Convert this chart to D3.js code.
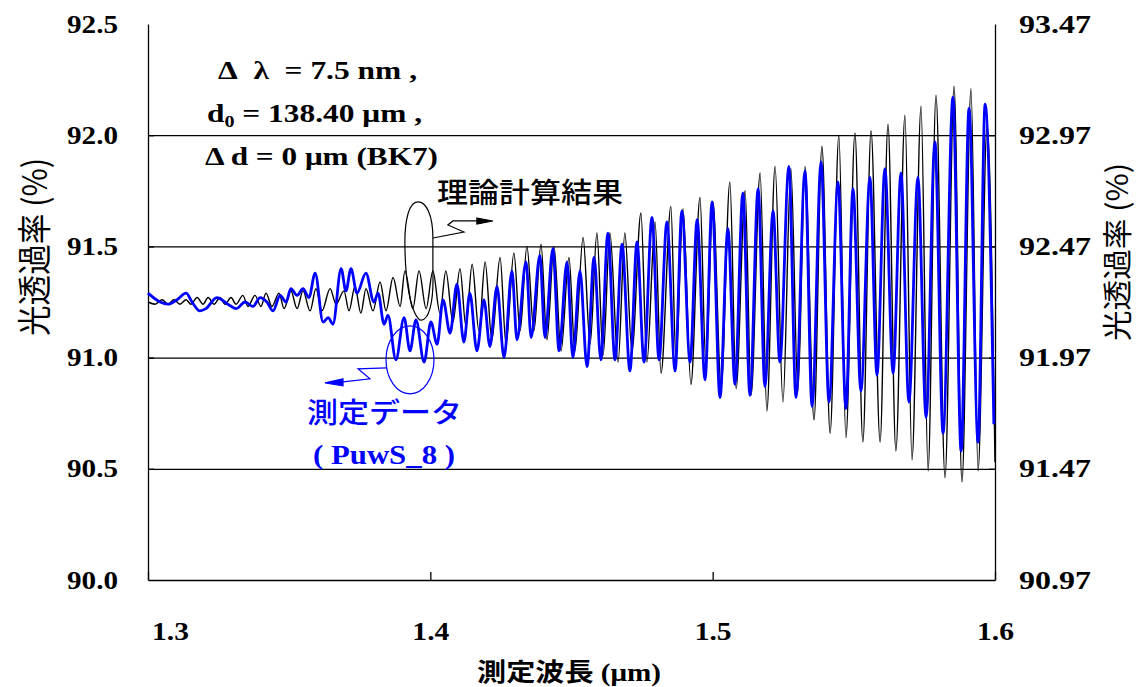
<!DOCTYPE html>
<html lang="ja">
<head>
<meta charset="UTF-8">
<title>光透過率</title>
<script src="https://d3js.org/d3.v7.min.js"></script>
<style>
  body { margin: 0; background: #fff; }
  svg { display: block; }
  .serif { font-family: "Liberation Serif", "Times New Roman", serif; font-weight: bold; }
  .cjk { font-family: "Noto Sans CJK JP", sans-serif; }
  .grid line { stroke: #000; stroke-width: 1.3; }
  .grid path { display: none; }
  .frame path, .frame line { stroke: #000; stroke-width: 1.3; }
</style>
</head>
<body>
<div id="chart"></div>
<script>
// axis ticks
const xTicks = [1.3, 1.4, 1.5, 1.6];
const yTicksLeft = [90.0, 90.5, 91.0, 91.5, 92.0, 92.5];
const yTicksRight = [90.97, 91.47, 91.97, 92.47, 92.97, 93.47];

// 理論計算結果 (black), extrema
const theoryLambda = [
  1.3000,1.3025,1.3050,1.3071,1.3092,1.3113,1.3135,1.3152,1.3174,1.3195,
  1.3213,1.3234,1.3255,1.3273,1.3294,1.3312,1.3336,1.3354,1.3379,1.3400,
  1.3418,1.3439,1.3464,1.3482,1.3506,1.3528,1.3549,1.3574,1.3595,1.3616,
  1.3645,1.3666,1.3694,1.3712,1.3733,1.3754,1.3772,1.3797,1.3822,1.3843,
  1.3868,1.3893,1.3910,1.3938,1.3960,1.3985,1.4009,1.4034,1.4055,1.4080,
  1.4105,1.4126,1.4148,1.4172,1.4194,1.4218,1.4247,1.4268,1.4296,1.4318,
  1.4342,1.4367,1.4392,1.4413,1.4438,1.4463,1.4491,1.4512,1.4541,1.4566,
  1.4590,1.4612,1.4636,1.4665,1.4689,1.4714,1.4746,1.4767,1.4796,1.4817,
  1.4852,1.4870,1.4895,1.4923,1.4955,1.4976,1.5001,1.5030,1.5061,1.5083,
  1.5115,1.5136,1.5168,1.5192,1.5221,1.5249,1.5277,1.5302,1.5327,1.5359,
  1.5387,1.5416,1.5447,1.5472,1.5504,1.5532,1.5561,1.5593,1.5621,1.5649,
  1.5681,1.5706,1.5738,1.5763,1.5791,1.5823,1.5855,1.5883,1.5915,1.5940,
  1.5972,1.6000
];
const theoryT = [
  91.25,91.24,91.26,91.24,91.26,91.24,91.26,91.24,91.27,91.24,
  91.27,91.24,91.27,91.24,91.27,91.24,91.28,91.23,91.28,91.23,
  91.29,91.23,91.29,91.22,91.30,91.22,91.30,91.21,91.31,91.21,
  91.31,91.24,91.30,91.21,91.32,91.20,91.31,91.21,91.34,91.21,
  91.36,91.23,91.39,91.22,91.39,91.22,91.39,91.20,91.39,91.16,
  91.40,91.14,91.42,91.12,91.43,91.08,91.45,91.06,91.47,91.12,
  91.50,91.12,91.51,91.08,91.50,91.03,91.45,91.03,91.54,91.06,
  91.56,91.01,91.56,90.98,91.56,91.03,91.65,90.98,91.61,90.93,
  91.68,90.99,91.67,90.88,91.72,90.97,91.70,90.87,91.79,90.86,
  91.75,90.83,91.83,90.76,91.86,90.80,91.85,90.85,91.86,90.72,
  91.95,90.66,92.00,90.64,92.01,90.62,92.02,90.62,92.05,90.58,
  92.09,90.54,92.13,90.49,92.18,90.46,92.22,90.44,92.21,90.49,
  92.05,90.53
];

// 測定データ PuwS_8 (blue)
const measLambda = [
  1.3000,1.3043,1.3071,1.3103,1.3135,1.3156,1.3184,1.3205,1.3244,1.3283,
  1.3312,1.3344,1.3372,1.3397,1.3421,1.3443,1.3468,1.3489,1.3506,1.3528,
  1.3549,1.3570,1.3592,1.3620,1.3638,1.3655,1.3684,1.3701,1.3719,1.3740,
  1.3772,1.3800,1.3815,1.3836,1.3850,1.3878,1.3907,1.3928,1.3949,1.3978,
  1.4002,1.4024,1.4045,1.4070,1.4094,1.4119,1.4140,1.4165,1.4190,1.4211,
  1.4236,1.4261,1.4289,1.4307,1.4339,1.4357,1.4388,1.4406,1.4434,1.4456,
  1.4484,1.4505,1.4530,1.4555,1.4580,1.4604,1.4629,1.4654,1.4679,1.4707,
  1.4732,1.4757,1.4785,1.4810,1.4838,1.4867,1.4891,1.4920,1.4945,1.4973,
  1.4998,1.5026,1.5054,1.5079,1.5107,1.5132,1.5161,1.5185,1.5214,1.5238,
  1.5270,1.5295,1.5327,1.5352,1.5384,1.5412,1.5444,1.5472,1.5497,1.5525,
  1.5557,1.5582,1.5610,1.5639,1.5667,1.5695,1.5727,1.5756,1.5787,1.5816,
  1.5851,1.5880,1.5908,1.5940,1.5965,1.5996
];
const measT = [
  91.29,91.25,91.24,91.26,91.29,91.25,91.21,91.22,91.27,91.24,
  91.22,91.25,91.23,91.27,91.25,91.21,91.28,91.25,91.31,91.28,
  91.31,91.27,91.38,91.16,91.18,91.15,91.40,91.30,91.40,91.29,
  91.38,91.25,91.29,91.15,91.19,90.99,91.18,91.03,91.17,90.98,
  91.16,91.06,91.26,91.11,91.33,91.07,91.29,91.03,91.26,91.05,
  91.32,91.00,91.39,91.08,91.43,91.09,91.46,91.09,91.49,91.03,
  91.43,91.00,91.39,90.96,91.45,90.99,91.56,90.99,91.51,90.94,
  91.52,90.98,91.63,90.99,91.61,90.94,91.66,90.98,91.62,90.90,
  91.70,90.82,91.58,90.88,91.74,90.83,91.76,90.87,91.66,90.98,
  91.86,90.82,91.84,90.78,91.88,90.80,91.79,90.77,91.76,90.85,
  91.81,90.92,91.85,90.93,91.83,90.80,91.81,90.73,91.97,90.66,
  92.17,90.58,92.12,90.62,92.14,90.70
];

const W = 1138, H = 687;
const plotLeft = 148, plotRight = 995, plotTop = 24, plotBottom = 580;
const blue = "#0000ff";

const x = d3.scaleLinear().domain([1.3, 1.6]).range([plotLeft, plotRight]);
const yL = d3.scaleLinear().domain([90, 92.5]).range([plotBottom, plotTop]);
const yR = d3.scaleLinear().domain([90.97, 93.47]).range([plotBottom, plotTop]);

const svg = d3.select("#chart").append("svg")
    .attr("width", W)
    .attr("height", H);

// gridlines
svg.append("g")
    .attr("class", "grid")
    .attr("transform", "translate(" + plotLeft + ",0)")
    .call(d3.axisLeft(yL).tickValues([90.5, 91, 91.5, 92]).tickSize(-(plotRight - plotLeft)).tickFormat(""));

// frame with inward ticks
svg.append("g").attr("class", "frame")
    .attr("transform", "translate(" + plotLeft + ",0)")
    .call(d3.axisLeft(yL).tickValues(yTicksLeft.slice(1, -1)).tickSizeInner(-6).tickSizeOuter(0).tickFormat(""));
svg.append("g").attr("class", "frame")
    .attr("transform", "translate(" + plotRight + ",0)")
    .call(d3.axisRight(yR).tickValues(yTicksRight.slice(1, -1)).tickSizeInner(-6).tickSizeOuter(0).tickFormat(""));
svg.append("g").attr("class", "frame")
    .attr("transform", "translate(0," + plotBottom + ")")
    .call(d3.axisBottom(x).tickValues(xTicks).tickSizeInner(-8).tickSizeOuter(0).tickFormat(""));

// tick labels
function styleLabels(g, len) {
    g.attr("font-size", null).attr("font-family", null);
    g.select(".domain").remove();
    g.selectAll("text")
        .attr("class", "serif")
        .attr("font-size", 25)
        .attr("fill", "#000")
        .attr("textLength", len)
        .attr("lengthAdjust", "spacingAndGlyphs");
}

svg.append("g")
    .attr("transform", "translate(" + plotLeft + ",0)")
    .call(d3.axisLeft(yL).tickValues(yTicksLeft).tickSize(0).tickPadding(30).tickFormat(d3.format(".1f")))
    .call(g => styleLabels(g, 51));

svg.append("g")
    .attr("transform", "translate(" + plotRight + ",0)")
    .call(d3.axisRight(yR).tickValues(yTicksRight).tickSize(0).tickPadding(24).tickFormat(d3.format(".2f")))
    .call(g => styleLabels(g, 72));

svg.append("g")
    .attr("transform", "translate(0," + plotBottom + ")")
    .call(d3.axisBottom(x).tickValues(xTicks).tickSize(0).tickFormat(d3.format(".1f")))
    .call(g => styleLabels(g, 37))
    .call(g => g.selectAll("text").attr("y", 60).attr("dy", 0)
        .attr("x", (d, i) => i === 0 ? 22 : 0));

// curves
const line = d3.line()
    .x(d => x(d[0]))
    .y(d => yL(d[1]))
    .curve(d3.curveMonotoneX);

svg.append("path")
    .datum(d3.zip(theoryLambda, theoryT))
    .attr("d", line)
    .attr("fill", "none")
    .attr("stroke", "#000")
    .attr("stroke-width", 1.4);

svg.append("path")
    .datum(d3.zip(measLambda, measT))
    .attr("d", line)
    .attr("fill", "none")
    .attr("stroke", blue)
    .attr("stroke-width", 2.8)
    .attr("stroke-linejoin", "round");

// annotation: parameters
const ann = svg.append("g").attr("class", "serif").attr("font-size", 25).attr("fill", "#000");
ann.append("text").attr("x", 218).attr("y", 79)
    .attr("textLength", 199).attr("lengthAdjust", "spacingAndGlyphs")
    .text("Δ\u2002λ\u2002= 7.5 nm ,");
const t2 = ann.append("text").attr("x", 207).attr("y", 122)
    .attr("textLength", 215).attr("lengthAdjust", "spacingAndGlyphs");
t2.append("tspan").text("d");
t2.append("tspan").attr("font-size", 16).attr("dy", 5).text("0");
t2.append("tspan").attr("dy", -5).text(" = 138.40 μm ,");
ann.append("text").attr("x", 205).attr("y", 165)
    .attr("textLength", 233).attr("lengthAdjust", "spacingAndGlyphs")
    .text("Δ d = 0 μm (BK7)");

// series labels
svg.append("text").attr("class", "cjk")
    .attr("x", 437).attr("y", 203)
    .attr("font-size", 28).attr("font-weight", 500).attr("fill", "#000")
    .attr("textLength", 186).attr("lengthAdjust", "spacingAndGlyphs")
    .text("理論計算結果");
svg.append("text").attr("class", "cjk")
    .attr("x", 307).attr("y", 423)
    .attr("font-size", 28).attr("font-weight", 500).attr("fill", blue)
    .attr("textLength", 155).attr("lengthAdjust", "spacingAndGlyphs")
    .text("測定データ");
svg.append("text").attr("class", "serif")
    .attr("x", 313).attr("y", 464)
    .attr("font-size", 27).attr("fill", blue)
    .attr("textLength", 142).attr("lengthAdjust", "spacingAndGlyphs")
    .text("( PuwS_8 )");

// callouts
const bx = x(1.3963), by = yL(91.43);
const bl = svg.append("g").attr("transform", "translate(" + bx + "," + by + ")")
    .attr("fill", "none").attr("stroke", "#000").attr("stroke-width", 1.2);
bl.append("path").attr("d",
    "M13,10 L13,-24 C13,-48 6,-60 -2,-60 C-11,-60 -15,-42 -15,-20 C-15,15 -10,50 0,58 C9,60 14,40 13,10");
bl.append("path").attr("d", "M13,-24 L44,-30 L28,-37 L33,-41 L57,-41");
bl.append("path").attr("d", "M57,-44 L73,-41 L57,-38 Z").attr("fill", "#000");

const ux = x(1.3928), uy = yL(90.99);
const ul = svg.append("g").attr("transform", "translate(" + ux + "," + uy + ")")
    .attr("fill", "none").attr("stroke", blue).attr("stroke-width", 1.2);
ul.append("ellipse").attr("rx", 24).attr("ry", 34);
ul.append("path").attr("d", "M-23,8 L-52,9 L-40,19 L-67,22");
ul.append("path").attr("d", "M-67,19 L-85,23 L-67,26 Z").attr("fill", blue);

// axis titles
function yTitle(cx, cy, sy) {
    const g = svg.append("g")
        .attr("transform", "translate(" + cx + "," + cy + ") rotate(-90) scale(1," + sy + ")");
    g.append("text").attr("class", "cjk")
        .attr("text-anchor", "middle").attr("dy", "0.4em")
        .attr("font-size", 28).attr("fill", "#000")
        .attr("textLength", 178).attr("lengthAdjust", "spacingAndGlyphs")
        .text("光透過率 (%)");
}
yTitle(34, 247, 1.2);
yTitle(1116, 252, 1.05);

const xt = svg.append("text")
    .attr("x", 569).attr("y", 681)
    .attr("text-anchor", "middle")
    .attr("font-size", 25).attr("font-weight", "bold").attr("fill", "#000")
    .attr("textLength", 184).attr("lengthAdjust", "spacingAndGlyphs");
xt.append("tspan").attr("class", "cjk").attr("font-weight", "bold").text("測定波長");
xt.append("tspan").attr("class", "serif").text(" (μm)");
</script>
</body>
</html>
